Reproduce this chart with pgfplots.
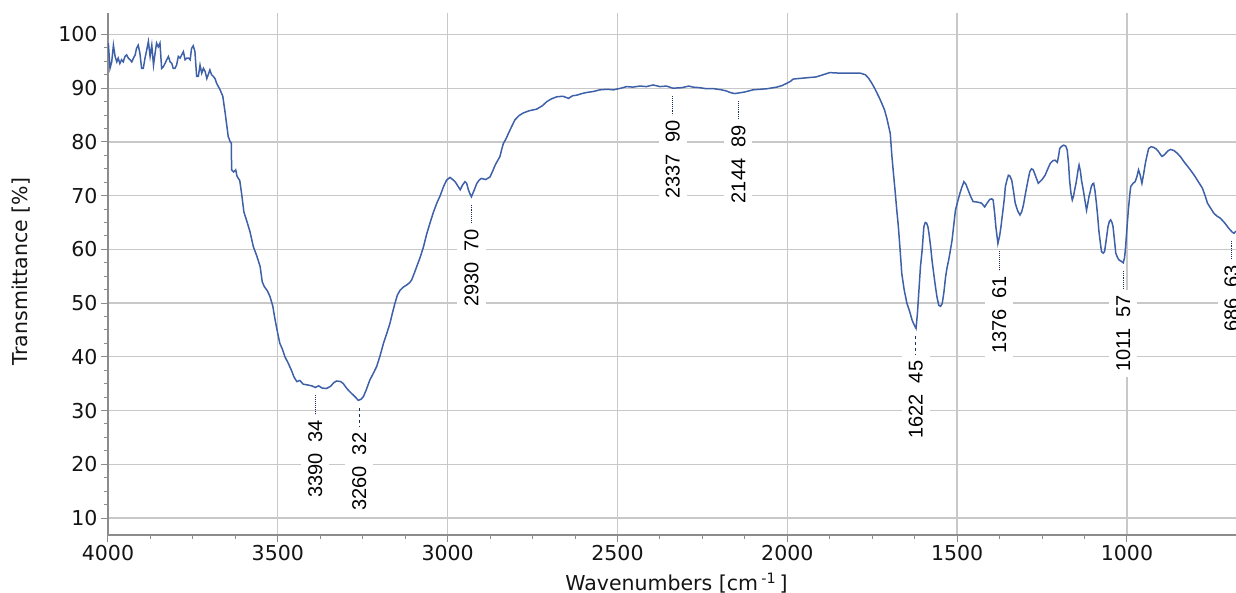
\documentclass[border=0pt]{standalone}
\usepackage{fontspec}
\setmainfont{DejaVu Sans}
\newfontfamily\annfont{Liberation Sans}
\usepackage{pgfplots}
\pgfplotsset{compat=1.18}
\definecolor{curve}{RGB}{62,96,168}
\definecolor{gridc}{RGB}{200,200,200}
\definecolor{axc}{RGB}{140,140,140}
\definecolor{annc}{RGB}{30,45,90}
\newcommand\ann[4]{%
  \draw[annc,#4,line width=0.9pt] ([yshift=-8pt]axis cs:#1,#2) -- ([yshift=-27pt]axis cs:#1,#2)
    node[solid,rotate=90,anchor=east,fill=white,inner xsep=5pt,inner ysep=7pt,text=black,
         font=\annfont\fontsize{20}{20}\selectfont] {#3};}
\begin{document}
\begin{tikzpicture}
\path[use as bounding box] (-108pt,-58pt) rectangle (1128pt,535pt);
\begin{axis}[
  at={(0pt,0pt)}, anchor=south west,
  scale only axis, width=1128pt, height=522pt,
  x dir=reverse, xmin=679, xmax=4000, ymin=6.84, ymax=104,
  axis lines*=left,
  axis line style={axc,line width=1.4pt},
  xtick={1000,1500,2000,2500,3000,3500,4000},
  ytick={10,20,30,40,50,60,70,80,90,100},
  minor x tick num=3, minor y tick num=3,
  tick align=outside,
  major tick length=7pt, minor tick length=4pt,
  every tick/.style={axc,line width=1pt},
  grid=major,
  major grid style={gridc,line width=1.3pt},
  /pgf/number format/1000 sep={},
  /pgf/number format/assume math mode=true,
  ticklabel style={font=\fontsize{20.5}{20.5}\selectfont, text=black!92},
  label style={font=\fontsize{20.5}{20.5}\selectfont, text=black!92},
  xlabel={Wavenumbers [cm\,\textsuperscript{-1}\,]},
  ylabel={Transmittance [\%]},
  xlabel style={at={(axis description cs:0.504,-0.092)},anchor=center},
  ylabel style={at={(axis description cs:-0.077,0.505)},anchor=center},
]
\addplot[curve,line width=1.5pt,mark=none] table {
x y
3999 98.4
3994 93.7
3989 94.9
3984 98.0
3979 95.9
3974 94.9
3970 95.6
3965 94.6
3960 95.3
3955 94.9
3950 95.9
3945 96.2
3940 95.6
3935 95.3
3930 94.9
3925 95.6
3920 96.2
3916 97.4
3911 98.0
3906 96.5
3901 93.7
3896 93.7
3891 95.6
3886 97.1
3881 98.7
3876 95.9
3871 98.0
3866 94.3
3862 96.2
3857 98.4
3852 97.7
3847 98.4
3842 93.7
3837 94.0
3832 94.6
3827 95.3
3822 95.9
3817 94.9
3812 94.6
3808 93.7
3803 93.7
3798 94.3
3793 95.9
3788 95.6
3783 96.2
3778 96.8
3773 95.3
3768 95.6
3763 95.6
3758 95.3
3754 97.4
3749 97.9
3744 96.8
3739 92.2
3734 92.2
3729 94.3
3724 92.8
3719 93.7
3714 93.1
3709 91.8
3705 92.5
3700 93.4
3695 92.5
3690 92.2
3685 91.8
3680 90.9
3670 89.7
3662 88.5
3655 85.4
3646 81.0
3640 80.0
3637 79.8
3636 74.8
3630 74.4
3624 74.8
3620 73.6
3612 72.8
3606 70.1
3600 67.0
3590 65.0
3582 63.3
3572 60.5
3562 58.8
3552 56.8
3546 54.0
3540 53.1
3530 52.2
3523 51.2
3515 49.5
3508 46.9
3500 44.3
3494 42.5
3487 41.5
3479 40.0
3470 38.9
3460 37.5
3452 36.2
3444 35.4
3435 35.6
3425 34.9
3415 34.8
3400 34.6
3390 34.3
3380 34.6
3370 34.2
3357 34.1
3345 34.5
3335 35.2
3327 35.5
3315 35.4
3307 35.0
3298 34.2
3288 33.5
3278 32.9
3270 32.4
3263 31.9
3255 32.1
3248 32.6
3240 33.8
3229 35.7
3219 36.9
3209 38.2
3199 40.2
3189 42.5
3180 44.2
3170 46.2
3162 48.3
3155 50.0
3148 51.5
3140 52.4
3130 53.0
3120 53.4
3112 53.8
3106 54.3
3098 55.6
3091 56.8
3081 58.5
3071 60.5
3062 62.8
3052 64.9
3042 66.9
3032 68.6
3022 70.0
3012 71.7
3003 72.9
2993 73.4
2985 73.0
2978 72.6
2970 71.8
2963 71.1
2956 72.0
2949 72.6
2944 72.3
2939 71.1
2934 70.3
2930 69.8
2922 71.0
2914 72.3
2907 72.9
2901 73.2
2888 73.0
2875 73.5
2868 74.5
2860 75.7
2853 76.5
2846 77.3
2840 78.8
2836 79.7
2828 80.6
2821 81.6
2812 82.8
2802 84.1
2790 84.9
2777 85.4
2760 85.8
2738 86.1
2722 86.7
2708 87.5
2695 88.0
2679 88.4
2660 88.5
2644 88.1
2632 88.6
2620 88.7
2605 89.0
2591 89.2
2570 89.4
2552 89.7
2530 89.8
2512 89.7
2490 90.0
2473 90.3
2455 90.2
2434 90.4
2415 90.3
2395 90.6
2375 90.3
2356 90.4
2337 90.0
2310 90.1
2290 90.4
2278 90.2
2258 90.1
2238 89.9
2215 89.9
2194 89.7
2180 89.5
2168 89.2
2155 89.0
2144 89.1
2125 89.3
2101 89.7
2080 89.8
2060 89.9
2031 90.2
2015 90.5
2002 90.9
1990 91.3
1983 91.7
1950 91.9
1915 92.1
1895 92.5
1875 92.9
1844 92.8
1800 92.8
1785 92.8
1770 92.5
1760 91.8
1751 90.9
1743 90.0
1736 89.1
1729 88.2
1722 87.2
1714 86.0
1707 84.4
1702 83.0
1697 81.6
1692 77.3
1687 73.8
1682 70.4
1678 67.5
1673 64.2
1668 60.0
1663 55.5
1656 52.5
1648 50.0
1640 48.5
1633 46.9
1627 46.0
1621 45.3
1617 48.0
1613 51.9
1608 56.8
1603 59.9
1598 64.2
1594 65.0
1590 64.9
1586 64.2
1583 63.0
1578 60.5
1574 58.0
1569 55.5
1564 53.1
1559 51.0
1554 49.6
1549 49.4
1544 49.9
1539 52.0
1534 54.9
1530 56.5
1525 58.0
1520 59.8
1515 61.7
1510 64.5
1505 67.3
1498 69.0
1492 70.4
1486 71.6
1480 72.6
1474 72.1
1468 71.1
1460 69.8
1453 68.9
1440 68.8
1428 68.6
1419 67.9
1412 68.6
1404 69.3
1398 69.4
1394 69.2
1390 67.0
1386 64.2
1380 61.1
1375 62.5
1371 64.2
1368 65.8
1365 67.3
1361 69.5
1358 71.7
1353 73.0
1349 73.8
1345 73.7
1339 72.8
1334 70.8
1329 68.6
1322 67.2
1315 66.4
1310 67.0
1305 68.2
1300 70.0
1295 71.7
1290 73.3
1286 74.5
1281 75.0
1276 74.8
1270 73.8
1261 72.3
1250 73.0
1241 73.8
1233 75.0
1226 76.0
1218 76.5
1212 76.6
1205 76.2
1201 77.5
1198 78.8
1192 79.2
1186 79.4
1180 79.2
1176 78.5
1172 76.0
1169 72.9
1165 70.5
1161 69.2
1157 70.0
1154 71.1
1150 72.3
1147 73.5
1144 74.8
1141 75.7
1137 74.5
1134 72.9
1130 71.5
1127 70.4
1123 68.8
1119 67.3
1116 68.3
1112 69.8
1108 70.8
1105 71.7
1101 72.2
1098 72.3
1094 70.8
1090 68.6
1086 66.0
1083 63.6
1079 61.5
1075 59.6
1070 59.3
1066 59.6
1061 61.8
1056 64.2
1052 65.2
1048 65.5
1044 65.0
1041 64.2
1037 61.8
1033 59.3
1028 58.5
1023 58.0
1017 57.8
1011 57.5
1007 58.5
1004 60.5
1000 64.0
996 67.3
992 70.0
989 71.7
982 72.3
976 72.6
971 73.5
966 74.8
961 73.8
956 72.3
951 74.0
946 76.0
941 77.5
936 78.8
929 79.1
922 79.0
914 78.7
907 78.2
902 77.7
897 77.3
892 77.5
887 77.8
880 78.3
872 78.6
862 78.4
852 77.9
842 77.2
832 76.3
817 75.1
802 73.8
790 72.6
778 71.4
770 70.0
763 68.6
753 67.6
744 66.7
735 66.2
725 65.8
712 64.9
700 63.9
690 63.2
685 63.0
679 63.4
};
\ann{3390}{34.3}{3390\hspace{11pt}34}{densely dotted}
\ann{3260}{31.9}{3260\hspace{11pt}32}{dashed}
\ann{2930}{69.8}{2930\hspace{11pt}70}{densely dotted}
\ann{2337}{90.0}{2337\hspace{11pt}90}{densely dotted}
\ann{2144}{89.1}{2144\hspace{11pt}89}{densely dotted}
\ann{1622}{45.3}{1622\hspace{11pt}45}{dashed}
\ann{1376}{61.1}{1376\hspace{11pt}61}{densely dotted}
\ann{1011}{57.5}{1011\hspace{11pt}57}{densely dotted}
\ann{692}{63.1}{686\hspace{11pt}63}{densely dotted}
\end{axis}
\end{tikzpicture}
\end{document}
